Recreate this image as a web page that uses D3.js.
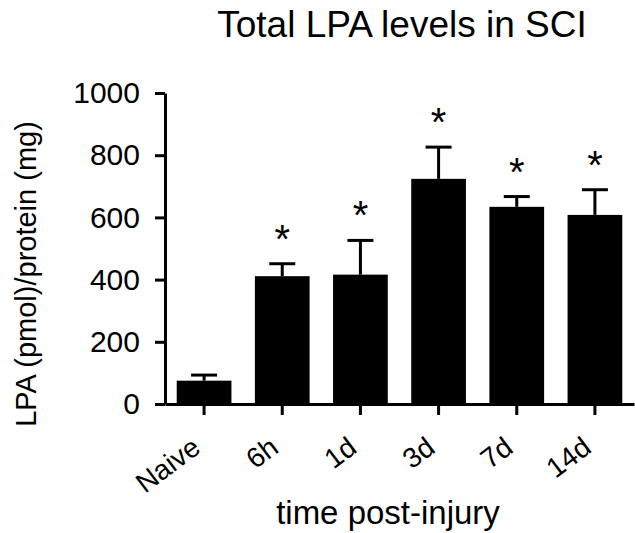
<!DOCTYPE html>
<html>
<head>
<meta charset="utf-8">
<script src="https://cdn.jsdelivr.net/npm/d3@7"></script>
<style>
  body { margin: 0; background: #fff; }
  svg text { font-family: "Liberation Sans", Arial, sans-serif; fill: #000; }
  .axis path, .axis line { stroke: #000; stroke-width: 3; }
</style>
</head>
<body>
<div id="visualization"></div>
<script>
var groups = ["Naive", "6h", "1d", "3d", "7d", "14d"];
var means = [75, 411, 416, 724, 634, 608];
var errors = [18, 40, 110, 102, 33, 81];
var significant = [false, true, true, true, true, true];
var yTicks = [0, 200, 400, 600, 800, 1000];

var data = groups.map(function(g, i) {
  return {group: g, mean: means[i], err: errors[i], sig: significant[i]};
});

render(data);

function render(data) {
  var width = 635, height = 533;
  var margin = {top: 93, right: 1, bottom: 129, left: 165};

  var svg = d3.select("#visualization").append("svg")
              .attr("width", width)
              .attr("height", height);

  var x = d3.scaleBand()
            .domain(groups)
            .range([margin.left, width - margin.right])
            .paddingInner(0.3)
            .paddingOuter(0.15);

  var y = d3.scaleLinear()
            .domain([0, 1000])
            .range([height - margin.bottom, margin.top]);

  var xAxis = d3.axisBottom(x).tickSize(11).tickSizeOuter(0).tickFormat("");
  var yAxis = d3.axisLeft(y)
                .tickValues(yTicks)
                .tickFormat(d3.format("d"))
                .tickSize(10)
                .tickSizeOuter(0)
                .tickPadding(15);

  // error bars (drawn first so bar covers lower half)
  var eb = svg.selectAll(".err").data(data).enter().append("g").attr("class", "err");
  eb.append("line")
    .attr("x1", d => x(d.group) + x.bandwidth() / 2)
    .attr("x2", d => x(d.group) + x.bandwidth() / 2)
    .attr("y1", d => y(d.mean))
    .attr("y2", d => y(d.mean + d.err))
    .attr("stroke", "#000").attr("stroke-width", 3);
  eb.append("line")
    .attr("x1", d => x(d.group) + x.bandwidth() / 2 - 13)
    .attr("x2", d => x(d.group) + x.bandwidth() / 2 + 13)
    .attr("y1", d => y(d.mean + d.err))
    .attr("y2", d => y(d.mean + d.err))
    .attr("stroke", "#000").attr("stroke-width", 3);

  svg.selectAll(".bar")
     .data(data)
     .enter().append("rect")
     .attr("class", "bar")
     .attr("x", d => x(d.group))
     .attr("y", d => y(d.mean))
     .attr("width", x.bandwidth())
     .attr("height", d => y(0) - y(d.mean))
     .attr("fill", "#000");

  // significance stars
  svg.selectAll(".star")
     .data(data.filter(d => d.sig))
     .enter().append("text")
     .attr("class", "star")
     .attr("x", d => x(d.group) + x.bandwidth() / 2)
     .attr("y", d => y(d.mean + d.err) - 11)
     .attr("text-anchor", "middle")
     .style("font-size", "40px")
     .text("*");

  svg.append("g")
     .attr("class", "x axis")
     .attr("transform", "translate(0," + y(0) + ")")
     .call(xAxis);

  svg.append("g")
     .attr("class", "y axis")
     .attr("transform", "translate(" + margin.left + ",0)")
     .call(yAxis)
     .selectAll("text")
     .style("font-size", "30px");

  // rotated x tick labels
  svg.selectAll(".xlabel")
     .data(data)
     .enter().append("text")
     .attr("class", "xlabel")
     .attr("text-anchor", "end")
     .attr("transform", d => "translate(" + (x(d.group) + x.bandwidth() / 2 - 2) + "," + (y(0) + 47) + ") rotate(-37)")
     .style("font-size", "28px")
     .text(d => d.group);

  // Title
  svg.append("text")
     .attr("x", 402)
     .attr("y", 37)
     .attr("text-anchor", "middle")
     .style("font-size", "37px")
     .text("Total LPA levels in SCI");

  // Y-Axis label
  svg.append("text")
     .attr("transform", "translate(36,274) rotate(-90)")
     .attr("text-anchor", "middle")
     .style("font-size", "29px")
     .text("LPA (pmol)/protein (mg)");

  // X-Axis label
  svg.append("text")
     .attr("x", 388)
     .attr("y", 524)
     .attr("text-anchor", "middle")
     .style("font-size", "33px")
     .text("time post-injury");
}
</script>
</body>
</html>
